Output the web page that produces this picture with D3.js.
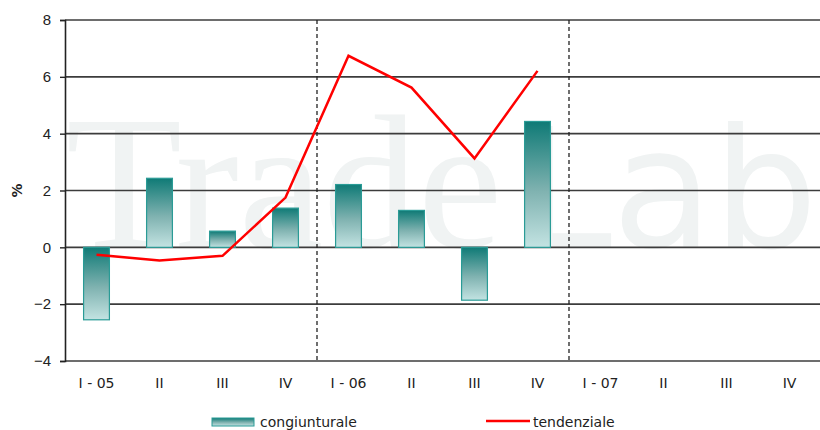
<!DOCTYPE html>
<html>
<head>
<meta charset="utf-8">
<script src="https://cdn.jsdelivr.net/npm/d3@7"></script>
<style>
  body { margin: 0; background: #fff; }
  svg { display: block; }
</style>
</head>
<body>
<div id="chart"></div>
<script>
/**
 * Congiunturale / tendenziale
 */
(function (d3) {
    "use strict";

    /***** Données *****/
    const trimestri = ["I - 05", "II", "III", "IV", "I - 06", "II", "III", "IV", "I - 07", "II", "III", "IV"];
    const congiunturale = [-2.55, 2.43, 0.57, 1.38, 2.21, 1.30, -1.86, 4.43];
    const tendenziale = [-0.26, -0.46, -0.30, 1.75, 6.74, 5.62, 3.13, 6.21];
    const y_ticks = [-4, -2, 0, 2, 4, 6, 8];
    const separatori = [4, 8]; // indice du trimestre après la ligne pointillée

    /***** Configuration *****/
    const width = 820, height = 430;
    var margin = { top: 20, right: -1, bottom: 69, left: 65 };

    var svg = d3.select("#chart").append("svg")
        .attr("width", width)
        .attr("height", height)
        .style("font-family", "'DejaVu Sans', Verdana, sans-serif");

    /***** Échelles *****/
    var x = d3.scaleBand()
        .domain(d3.range(trimestri.length))
        .range([margin.left, width - margin.right])
        .padding(0);

    var y = d3.scaleLinear()
        .domain([-4, 8])
        .range([height - margin.bottom, margin.top]);

    // dégradé des barres
    var grad = svg.append("defs").append("linearGradient")
        .attr("id", "barGrad")
        .attr("x1", 0).attr("y1", 0).attr("x2", 0).attr("y2", 1);
    grad.append("stop").attr("offset", "0%").attr("stop-color", "#0f7a76");
    grad.append("stop").attr("offset", "55%").attr("stop-color", "#7fb2b0");
    grad.append("stop").attr("offset", "100%").attr("stop-color", "#c3e3e2");

    /***** Filigrane *****/
    var wm = svg.append("g").attr("fill", "#f0f3f3");
    wm.append("text")
        .attr("x", 66).attr("y", y(0))
        .style("font-family", "'Liberation Serif', 'Times New Roman', serif")
        .style("font-size", "190px")
        .text("Trade");
    wm.append("text")
        .attr("x", 520).attr("y", y(0))
        .style("font-family", "'DejaVu Sans', sans-serif")
        .style("font-size", "165px")
        .text("Lab");

    /***** Grille et axes *****/
    svg.append("g")
        .selectAll("line")
        .data(y_ticks)
        .join("line")
        .attr("x1", margin.left).attr("x2", width)
        .attr("y1", d => y(d)).attr("y2", d => y(d))
        .attr("stroke", "#3c3c3c")
        .attr("stroke-width", 1.6);

    var yAxis = svg.append("g")
        .attr("transform", "translate(" + margin.left + ",0)")
        .call(d3.axisLeft(y).tickValues(y_ticks).tickSize(5).tickPadding(9));
    yAxis.select(".domain").attr("stroke", "#222").attr("stroke-width", 1.6);
    yAxis.selectAll(".tick line").attr("stroke", "#222").attr("stroke-width", 1.4);
    yAxis.selectAll(".tick text")
        .attr("fill", "#222")
        .style("font-size", "15px");

    svg.append("text")
        .attr("transform", "translate(22," + y(2) + ") rotate(-90)")
        .attr("text-anchor", "middle")
        .style("font-size", "14px")
        .style("font-weight", "bold")
        .attr("fill", "#222")
        .text("%");

    // lignes pointillées entre les années
    svg.append("g")
        .selectAll("line")
        .data(separatori)
        .join("line")
        .attr("x1", d => x(d)).attr("x2", d => x(d))
        .attr("y1", y(8)).attr("y2", y(-4))
        .attr("stroke", "#222")
        .attr("stroke-width", 1.3)
        .attr("stroke-dasharray", "4,3");

    svg.append("g")
        .selectAll("text")
        .data(trimestri)
        .join("text")
        .attr("x", (d, i) => x(i) + x.bandwidth() / 2)
        .attr("y", y(-4) + 27)
        .attr("text-anchor", "middle")
        .attr("fill", "#222")
        .style("font-size", "14px")
        .text(d => d);

    /***** Barres *****/
    var bw = x.bandwidth() * 0.41;
    svg.append("g")
        .selectAll("rect")
        .data(congiunturale)
        .join("rect")
        .attr("x", (d, i) => x(i) + (x.bandwidth() - bw) / 2)
        .attr("y", d => y(Math.max(0, d)))
        .attr("width", bw)
        .attr("height", d => Math.abs(y(d) - y(0)))
        .attr("fill", "url(#barGrad)")
        .attr("stroke", "#2a9b96")
        .attr("stroke-width", 1.2);

    /***** Ligne tendenziale *****/
    var line = d3.line()
        .x((d, i) => x(i) + x.bandwidth() / 2)
        .y(d => y(d));

    svg.append("path")
        .datum(tendenziale)
        .attr("d", line)
        .attr("fill", "none")
        .attr("stroke", "#ff0000")
        .attr("stroke-width", 2.5);

    /***** Légende *****/
    var legend = svg.append("g").style("font-size", "14px").attr("fill", "#222");
    legend.append("rect")
        .attr("x", 212).attr("y", 418)
        .attr("width", 42).attr("height", 8)
        .attr("fill", "url(#barGrad)")
        .attr("stroke", "#2a9b96");
    legend.append("text").attr("x", 260).attr("y", 427).text("congiunturale");
    legend.append("line")
        .attr("x1", 486).attr("x2", 530)
        .attr("y1", 421).attr("y2", 421)
        .attr("stroke", "#ff0000").attr("stroke-width", 2.5);
    legend.append("text").attr("x", 533).attr("y", 427).text("tendenziale");

})(d3);
</script>
</body>
</html>
